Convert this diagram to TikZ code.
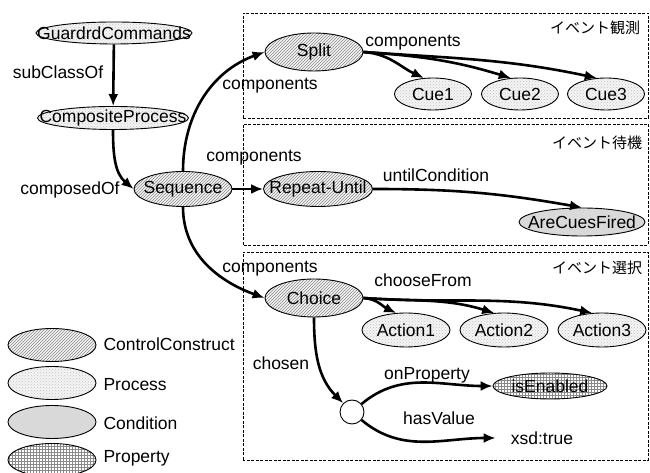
\documentclass[tikz,border=0pt]{standalone}
\usepackage{fontspec}
\setmainfont{Liberation Sans}
\newfontfamily\jpfont{Noto Sans CJK JP}
\usepackage{xcolor}
\usetikzlibrary{arrows.meta,shapes.geometric,patterns}
\definecolor{hatchgray}{HTML}{8A8A8A}
\definecolor{dotgray}{HTML}{C4C4C4}
\definecolor{condgray}{HTML}{D9D9D9}
\definecolor{paleback}{HTML}{F4F4F4}

\begin{document}
\begin{tikzpicture}[x=1pt,y=1pt,>={Latex[length=12pt,width=10pt]},
  font=\fontsize{17.5}{20}\selectfont,
  oval/.style={ellipse,draw,line width=0.9pt,inner sep=0pt},
  ctrl/.style={oval,preaction={fill=paleback},pattern=north east lines,pattern color=hatchgray},
  proc/.style={oval,preaction={fill=paleback},pattern=crosshatch dots,pattern color=dotgray},
  cond/.style={oval,fill=condgray},
  prop/.style={oval,preaction={fill=white},pattern=grid,pattern color=hatchgray},
  link/.style={->,line width=2.6pt},
  groupbox/.style={line width=0.8pt,dash pattern=on 3pt off 1.5pt},
  jp/.style={font=\jpfont\fontsize{15}{18}\selectfont}]
  \useasboundingbox (0,0) rectangle (650,473);

  \draw[groupbox] (243,355) rectangle (648,460);
  \draw[groupbox] (243,228) rectangle (648,349);
  \draw[groupbox] (243,13) rectangle (648,221);

  \node[proc,minimum width=156pt,minimum height=22pt,label=center:GuardrdCommands] (guard) at (114,440) {};
  \node[proc,minimum width=151pt,minimum height=23pt,label=center:CompositeProcess] (cp) at (113,355) {};
  \node[ctrl,minimum width=98pt,minimum height=35pt,label=center:Sequence] (seq) at (183,284) {};
  \node[ctrl,minimum width=98pt,minimum height=38pt,label=center:Split] (split) at (314,421) {};
  \node[ctrl,minimum width=109pt,minimum height=35pt,label=center:Repeat-Until] (ru) at (318,284) {};
  \node[cond,minimum width=126pt,minimum height=28pt,label=center:AreCuesFired] (fired) at (582,251) {};
  \node[ctrl,minimum width=98pt,minimum height=38pt,label=center:Choice] (choice) at (314,175) {};
  \foreach \i/\x in {1/433,2/520,3/606}
    \node[proc,minimum width=77pt,minimum height=32pt,label=center:Cue\i] (cue\i) at (\x,379) {};
  \foreach \i/\x in {1/406,2/504,3/602}
    \node[proc,minimum width=88pt,minimum height=34pt,label=center:Action\i] (act\i) at (\x,143) {};
  \node[prop,minimum width=114pt,minimum height=26pt,label=center:isEnabled] (enabled) at (550,87) {};
  \node[circle,draw,line width=0.9pt,fill=white,minimum size=24pt,inner sep=0pt] (blank) at (352,61) {};
  \node[inner xsep=15pt] (true) at (542,35) {xsd:true};

  \draw[link] (guard) -- (cp);
  \draw[link] (cp.south) to[out=-90,in=140] (seq.west);
  \draw[link] (seq.north) to[out=90,in=200] (split.west);
  \draw[link] (seq) -- (ru);
  \draw[link] (seq.south) to[out=-90,in=160] (choice.west);
  \foreach \i/\a in {1/155,2/163,3/168}
    \draw[link] (split.east) to[out=-4,in=\a] (cue\i.120);
  \draw[link] (ru.east) to[out=0,in=170] (fired.north);
  \foreach \i/\a in {1/155,2/163,3/168}
    \draw[link] (choice.east) to[out=-4,in=\a] (act\i.120);
  \draw[link] (choice.south) to[out=-90,in=135] (blank);
  \draw[link] (blank.40) to[out=40,in=180] (enabled.west);
  \draw[link] (blank.-40) to[out=-40,in=180] (true.west);

  \node (subcls) at (58,401) {subClassOf};
  \node (composed) at (70,283) {composedOf};
  \node (compsplit) at (270,387) {components};
  \node (compcue) at (413,430) {components};
  \node[jp] (observe) at (595,445) {イベント観測};
  \node (compru) at (254,315) {components};
  \node (until) at (436,298) {untilCondition};
  \node[jp] (wait) at (597,330) {イベント待機};
  \node (compchoice) at (270,204) {components};
  \node (choose) at (423,193) {chooseFrom};
  \node[jp] (select) at (597,205) {イベント選択};
  \node (chosen) at (281,110) {chosen};
  \node (onprop) at (427,98) {onProperty};
  \node (hasval) at (439,55) {hasValue};

  \node[ctrl,minimum width=88pt,minimum height=33pt] (keyctrl) at (52,128) {};
  \node[proc,minimum width=88pt,minimum height=33pt] (keyproc) at (52,90) {};
  \node[cond,minimum width=88pt,minimum height=33pt] (keycond) at (52,51) {};
  \node[prop,minimum width=88pt,minimum height=33pt] (keyprop) at (52,13) {};
  \node[anchor=west] (namectrl) at (100,129) {ControlConstruct};
  \node[anchor=west] (nameproc) at (100,88) {Process};
  \node[anchor=west] (namecond) at (100,50) {Condition};
  \node[anchor=west] (nameprop) at (100,15) {Property};
\end{tikzpicture}
\end{document}
